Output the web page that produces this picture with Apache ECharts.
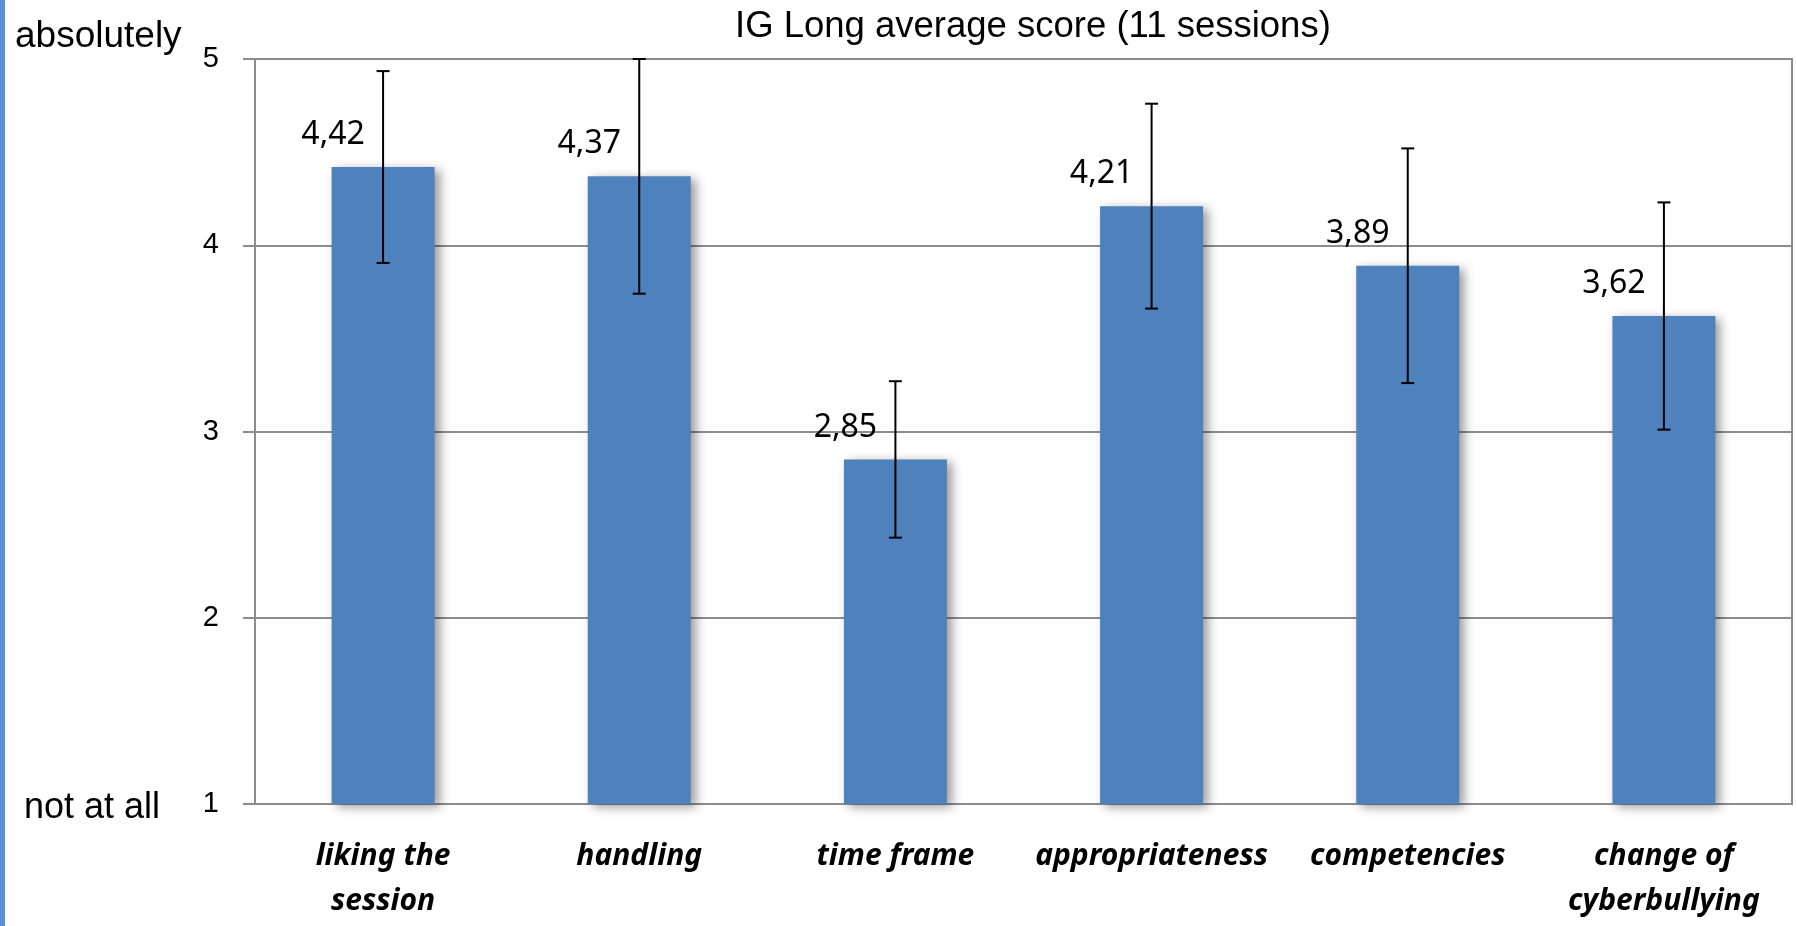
<!DOCTYPE html>
<html>
<head>
<meta charset="utf-8">
<script src="https://cdn.jsdelivr.net/npm/echarts@6/dist/echarts.min.js"></script>
<style>
html,body{margin:0;padding:0;background:#fff;}
#chart{width:1797px;height:926px;}
</style>
</head>
<body>
<div id="chart"></div>
<script>
var categories = ['liking the\nsession', 'handling', 'time frame', 'appropriateness', 'competencies', 'change of\ncyberbullying'];
var means = [4.42, 4.37, 2.85, 4.21, 3.89, 3.62];
var errors = [0.515, 0.63, 0.42, 0.55, 0.63, 0.61];
var yTicks = [1, 2, 3, 4, 5];
var meanLabels = ['4,42', '4,37', '2,85', '4,21', '3,89', '3,62'];
var titleText = 'IG Long average score (11 sessions)';
var topAnchor = 'absolutely';
var bottomAnchor = 'not at all';

var gridColor = '#8c8c8c';
var arial = '"Liberation Sans", Arial, sans-serif';
var chart = echarts.init(document.getElementById('chart'));

var errData = means.map(function (m, i) { return [i, m - errors[i], m + errors[i]]; });

chart.setOption({
  animation: false,
  grid: { left: 255, right: 5, top: 59, bottom: 122, show: true, borderColor: gridColor, borderWidth: 2, containLabel: false },
  graphic: [
    { type: 'rect', shape: { x: 0, y: 0, width: 5, height: 926 }, style: { fill: '#5a8ed6' } },
    { type: 'text', style: { x: 15, y: 37, text: topAnchor, fontSize: 37, fontFamily: arial, fill: '#000', verticalAlign: 'middle', align: 'left' } },
    { type: 'text', style: { x: 24, y: 808, text: bottomAnchor, fontSize: 36, fontFamily: arial, fill: '#000', verticalAlign: 'middle', align: 'left' } },
    { type: 'text', style: { x: 735, y: 27, text: titleText, fontSize: 36.5, fontFamily: arial, fill: '#000', verticalAlign: 'middle', align: 'left' } }
  ],
  xAxis: {
    type: 'category',
    data: categories,
    axisLine: { show: true, lineStyle: { color: gridColor, width: 2 } },
    axisTick: { show: false },
    axisLabel: {
      interval: 0,
      margin: 30,
      color: '#000',
      fontFamily: '"Noto Sans", sans-serif',
      fontWeight: 'bold',
      fontStyle: 'italic',
      fontSize: 30,
      lineHeight: 45
    }
  },
  yAxis: {
    type: 'value',
    min: yTicks[0],
    max: yTicks[yTicks.length - 1],
    interval: 1,
    axisLine: { show: true, lineStyle: { color: gridColor, width: 2 } },
    axisTick: { show: true, length: 12, lineStyle: { color: gridColor, width: 2 } },
    splitLine: { show: true, lineStyle: { color: gridColor, width: 2 } },
    axisLabel: {
      margin: 36,
      color: '#000',
      fontFamily: arial,
      fontSize: 29
    }
  },
  series: [
    {
      type: 'bar',
      data: means,
      barWidth: 103,
      itemStyle: {
        color: '#4f81bd',
        shadowBlur: 10,
        shadowOffsetX: 5,
        shadowOffsetY: 3,
        shadowColor: 'rgba(0,0,0,0.4)'
      },
      label: {
        show: true,
        position: 'top',
        distance: 5,
        offset: [-50, -11],
        color: '#000',
        fontFamily: '"Noto Sans", sans-serif',
        fontSize: 32,
        lineHeight: 32,
        formatter: function (p) { return meanLabels[p.dataIndex]; }
      },
      z: 2
    },
    {
      type: 'custom',
      data: errData,
      z: 5,
      renderItem: function (params, api) {
        var x = api.value(0);
        var lo = api.coord([x, api.value(1)]);
        var hi = api.coord([x, api.value(2)]);
        var cw = 6.5;
        var style = { stroke: '#000', lineWidth: 2 };
        return {
          type: 'group',
          children: [
            { type: 'line', shape: { x1: hi[0], y1: hi[1], x2: lo[0], y2: lo[1] }, style: style },
            { type: 'line', shape: { x1: hi[0] - cw, y1: hi[1], x2: hi[0] + cw, y2: hi[1] }, style: style },
            { type: 'line', shape: { x1: lo[0] - cw, y1: lo[1], x2: lo[0] + cw, y2: lo[1] }, style: style }
          ]
        };
      }
    }
  ]
});
</script>
</body>
</html>
